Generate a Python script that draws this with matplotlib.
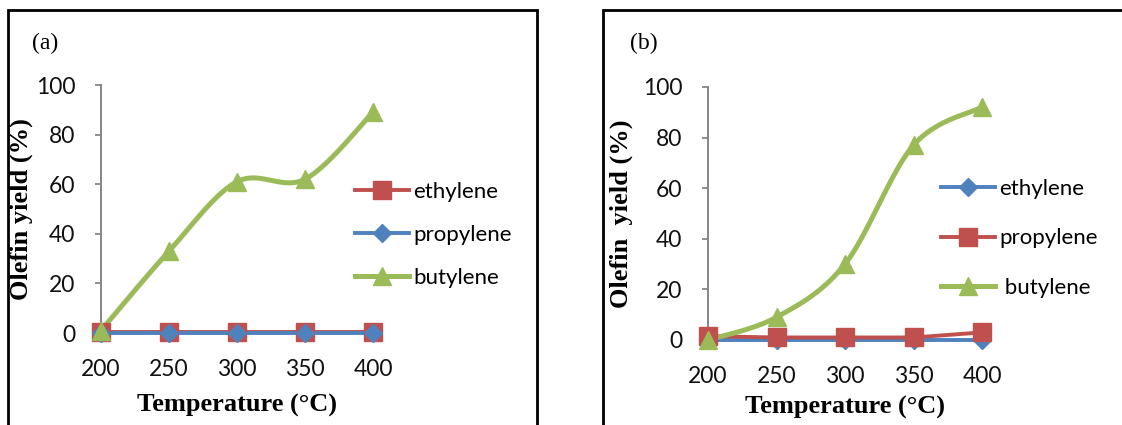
import numpy as np
import matplotlib
matplotlib.use("Agg")
import matplotlib.pyplot as plt
from matplotlib.patches import Rectangle
from matplotlib.lines import Line2D

# Reaction temperatures (°C)
temperature = [200, 250, 300, 350, 400]

# Panel (a) olefin yields (%)
a_ethylene = [0.5, 0.5, 0.5, 0.5, 0.5]
a_propylene = [0, 0, 0, 0, 0]
a_butylene = [1, 33, 61, 62, 89]

# Panel (b) olefin yields (%)
b_ethylene = [0, 0, 0, 0, 0]
b_propylene = [1.5, 1, 1, 1, 3]
b_butylene = [0, 9, 30, 77, 92]

y_ticks = [0, 20, 40, 60, 80, 100]

RED = "#C0504D"
BLUE = "#4F81BD"
GREEN = "#9BBB59"
AXIS_GREY = "#868686"

TICK_FONT = "Lato"
SERIF = "Liberation Serif"

W, H = 1122, 425


def smooth(x, y, n=40):
    """Catmull-Rom style Bezier smoothing through every point."""
    pts = np.column_stack([np.asarray(x, float), np.asarray(y, float)])
    out = [pts[0]]
    t = np.linspace(0, 1, n)[1:]
    for i in range(len(pts) - 1):
        p0 = pts[max(i - 1, 0)]
        p1 = pts[i]
        p2 = pts[i + 1]
        p3 = pts[min(i + 2, len(pts) - 1)]
        c1 = p1 + (p2 - p0) / 6.0
        c2 = p2 - (p3 - p1) / 6.0
        seg = ((1 - t) ** 3)[:, None] * p1 + (3 * (1 - t) ** 2 * t)[:, None] * c1 \
            + (3 * (1 - t) * t ** 2)[:, None] * c2 + (t ** 3)[:, None] * p2
        out.extend(seg)
    out = np.array(out)
    return out[:, 0], out[:, 1]


def series(ax, x, y, color, marker, ms, lw, label, smoothed=False):
    sx, sy = smooth(x, y) if smoothed else (x, y)
    ax.plot(sx, sy, color=color, lw=lw, solid_capstyle="round", clip_on=False, zorder=3)
    ax.plot(x, y, linestyle="none", marker=marker, ms=ms, color=color,
            markeredgecolor=color, clip_on=False, zorder=4)
    return Line2D([], [], color=color, lw=lw, marker=marker, ms=ms,
                  markeredgecolor=color, label=label)


def style_axes(ax, xpad, ylabel):
    ax.set_xlim(200, 400)
    ax.set_ylim(0, 100)
    ax.set_xticks(temperature)
    ax.set_yticks(y_ticks)
    for s in ("top", "right"):
        ax.spines[s].set_visible(False)
    for s in ("left", "bottom"):
        ax.spines[s].set_color(AXIS_GREY)
        ax.spines[s].set_linewidth(1.4)
    ax.tick_params(axis="y", direction="out", length=4.5, width=1.3, color=AXIS_GREY,
                   pad=14, labelsize=16.5)
    ax.tick_params(axis="x", length=0, pad=xpad, labelsize=16.5)
    for lab in ax.get_xticklabels() + ax.get_yticklabels():
        lab.set_fontfamily(TICK_FONT)
        lab.set_color("#111111")
    ax.set_ylabel(ylabel, fontfamily=SERIF, fontweight="bold", fontsize=19)
    ax.set_xlabel("Temperature (°C)", fontfamily=SERIF, fontweight="bold",
                  fontsize=19, va="top")
    ax.patch.set_alpha(0)


def axes_rect(x0, x1, ytop, ybot):
    return [x0 / W, (H - ybot) / H, (x1 - x0) / W, (ybot - ytop) / H]


fig = plt.figure(figsize=(W / 100, H / 100), dpi=100)

# Panel frames
fig.patches.append(Rectangle((8 / W, -0.05), (537 - 8) / W, (H - 10) / H + 0.05,
                             transform=fig.transFigure, fill=False, ec="black", lw=2.0))
fig.patches.append(Rectangle((603 / W, -0.05), (1140 - 603) / W, (H - 10) / H + 0.05,
                             transform=fig.transFigure, fill=False, ec="black", lw=2.0,
                             clip_on=False))

legend_kw = dict(loc="center left", frameon=False, numpoints=1, handlelength=2.45,
                 handletextpad=0.18, borderpad=0, borderaxespad=0,
                 prop={"family": TICK_FONT, "size": 16})

# Panel (a)
ax1 = fig.add_axes(axes_rect(101, 373, 85, 333))
style_axes(ax1, xpad=18.5, ylabel="Olefin yield (%)")
h_e = series(ax1, temperature, a_ethylene, RED, "s", 13, 2.8, "ethylene")
h_p = series(ax1, temperature, a_propylene, BLUE, "D", 9, 2.8, "propylene")
h_b = series(ax1, temperature, a_butylene, GREEN, "^", 13, 3.6, "butylene", smoothed=True)
ax1.xaxis.set_label_coords(0.5, -0.245)
ax1.yaxis.set_label_coords(-0.25, 0.5)
ax1.legend(handles=[h_e, h_p, h_b], bbox_to_anchor=(355 / W, (H - 235) / H),
           bbox_transform=fig.transFigure, labelspacing=1.03, **legend_kw)
fig.text(32 / W, (H - 43) / H, "(a)", fontfamily=SERIF, fontsize=17,
         va="center", ha="left")

# Panel (b)
ax2 = fig.add_axes(axes_rect(708, 982, 87, 340))
style_axes(ax2, xpad=19, ylabel="Olefin  yield (%)")
g_e = series(ax2, temperature, b_ethylene, BLUE, "D", 9, 2.8, "ethylene")
g_p = series(ax2, temperature, b_propylene, RED, "s", 13, 2.8, "propylene")
g_b = series(ax2, temperature, b_butylene, GREEN, "^", 13, 3.6, " butylene", smoothed=True)
ax2.xaxis.set_label_coords(0.5, -0.222)
ax2.yaxis.set_label_coords(-0.274, 0.5)
ax2.legend(handles=[g_e, g_p, g_b], bbox_to_anchor=(941 / W, (H - 238.5) / H),
           bbox_transform=fig.transFigure, labelspacing=1.32, **legend_kw)
fig.text(630 / W, (H - 43) / H, "(b)", fontfamily=SERIF, fontsize=17,
         va="center", ha="left")

fig.savefig("out.png", dpi=100)
